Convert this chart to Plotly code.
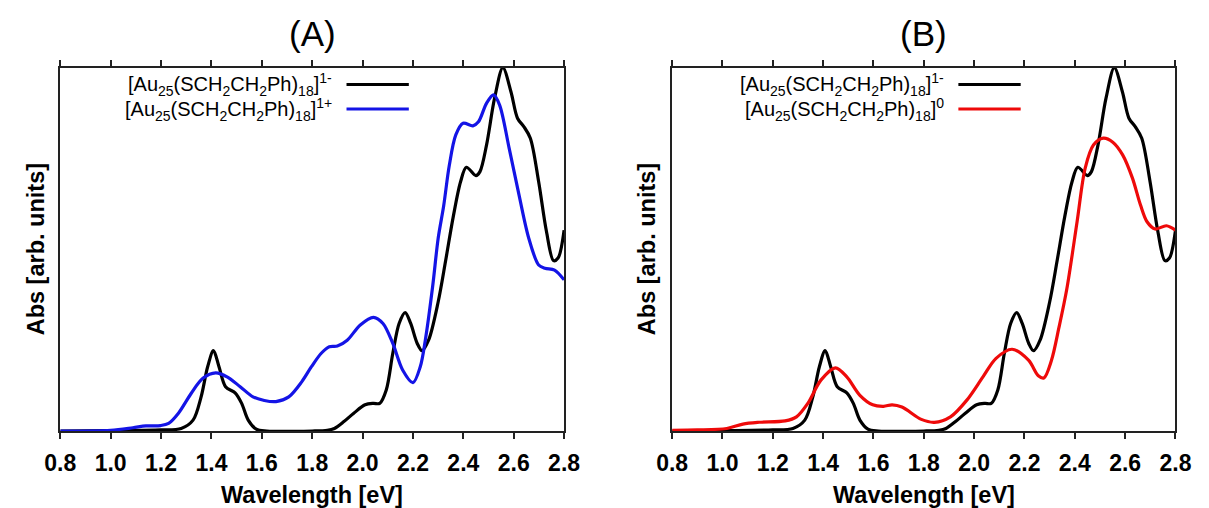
import plotly.graph_objects as go

W, H = 1209, 508

# ---- spectra -------------------------------------------------------------
# [Au25(SCH2CH2Ph)18]1-  (shown in both panels)
energy_anion = [0.80, 1.00, 1.20, 1.28, 1.327, 1.359, 1.385, 1.408, 1.43, 1.456,
                1.494, 1.52, 1.546, 1.578, 1.62, 1.80, 1.86, 1.888, 1.926, 1.965,
                2.01, 2.043, 2.068, 2.094, 2.12, 2.145, 2.169, 2.191, 2.217, 2.236,
                2.262, 2.30, 2.33, 2.36, 2.389, 2.412, 2.45, 2.466, 2.492, 2.524,
                2.557, 2.589, 2.615, 2.64, 2.666, 2.699, 2.73, 2.758, 2.776, 2.80]
abs_anion = [0.0, 0.001, 0.003, 0.007, 0.03, 0.094, 0.177, 0.221, 0.177, 0.122,
             0.105, 0.076, 0.03, 0.005, 0.0, 0.0, 0.002, 0.007, 0.026, 0.049,
             0.072, 0.076, 0.076, 0.113, 0.214, 0.296, 0.326, 0.296, 0.241, 0.221,
             0.25, 0.355, 0.47, 0.59, 0.686, 0.726, 0.703, 0.714, 0.787, 0.916,
             1.0, 0.934, 0.861, 0.838, 0.806, 0.686, 0.549, 0.469, 0.476, 0.553]

# [Au25(SCH2CH2Ph)18]1+
energy_cation = [0.80, 1.00, 1.088, 1.14, 1.198, 1.23, 1.269, 1.32, 1.366, 1.417,
                 1.462, 1.514, 1.565, 1.61, 1.656, 1.707, 1.759, 1.797, 1.836, 1.868,
                 1.90, 1.939, 1.991, 2.043, 2.081, 2.12, 2.159, 2.20, 2.229, 2.249,
                 2.278, 2.30, 2.322, 2.344, 2.37, 2.399, 2.438, 2.46, 2.492, 2.52,
                 2.544, 2.582, 2.621, 2.66, 2.699, 2.724, 2.762, 2.80]
abs_cation = [0.0, 0.002, 0.009, 0.014, 0.015, 0.021, 0.049, 0.104, 0.145, 0.16,
              0.149, 0.122, 0.094, 0.084, 0.081, 0.094, 0.136, 0.177, 0.214, 0.232,
              0.234, 0.25, 0.292, 0.313, 0.296, 0.241, 0.168, 0.133, 0.177, 0.25,
              0.397, 0.53, 0.62, 0.73, 0.815, 0.847, 0.84, 0.851, 0.902, 0.925,
              0.897, 0.778, 0.65, 0.53, 0.457, 0.448, 0.443, 0.416]

# [Au25(SCH2CH2Ph)18]0
energy_neutral = [0.80, 0.90, 1.017, 1.081, 1.145, 1.249, 1.294, 1.339, 1.391, 1.449,
                  1.494, 1.545, 1.597, 1.64, 1.674, 1.713, 1.79, 1.842, 1.906, 1.971,
                  2.035, 2.087, 2.151, 2.216, 2.255, 2.277, 2.307, 2.337, 2.368, 2.409,
                  2.441, 2.474, 2.513, 2.551, 2.59, 2.629, 2.661, 2.687, 2.719, 2.764,
                  2.80]
abs_neutral = [0.002, 0.003, 0.007, 0.019, 0.024, 0.028, 0.039, 0.076, 0.14, 0.174,
               0.149, 0.099, 0.072, 0.068, 0.072, 0.066, 0.032, 0.024, 0.039, 0.085,
               0.149, 0.20, 0.225, 0.195, 0.152, 0.146, 0.194, 0.285, 0.39, 0.576,
               0.723, 0.787, 0.806, 0.795, 0.76, 0.696, 0.622, 0.576, 0.556, 0.565,
               0.553]

x_ticks = [0.8, 1.0, 1.2, 1.4, 1.6, 1.8, 2.0, 2.2, 2.4, 2.6, 2.8]
panel_titles = ["(A)", "(B)"]
label_anion = "[Au<sub>25</sub>(SCH<sub>2</sub>CH<sub>2</sub>Ph)<sub>18</sub>]<sup>1-</sup>"
label_cation = "[Au<sub>25</sub>(SCH<sub>2</sub>CH<sub>2</sub>Ph)<sub>18</sub>]<sup>1+</sup>"
label_neutral = "[Au<sub>25</sub>(SCH<sub>2</sub>CH<sub>2</sub>Ph)<sub>18</sub>]<sup>0</sup>"

BLACK, BLUE, RED = "#000000", "#1414e6", "#ee0a0a"
FONT = "Liberation Sans, Arial, sans-serif"


def fx(px):
    return px / W


def fy(py):
    return 1 - py / H


# plot-area edges in pixels
A_LEFT, A_RIGHT = 45.5, 563.0
B_LEFT, B_RIGHT = 674.0, 1191.0
TOP, BOTTOM = 67.7, 431.0

fig = go.Figure()

panels = [
    ("x", "y", [(energy_anion, abs_anion, BLACK, label_anion),
                (energy_cation, abs_cation, BLUE, label_cation)]),
    ("x2", "y2", [(energy_anion, abs_anion, BLACK, label_anion),
                  (energy_neutral, abs_neutral, RED, label_neutral)]),
]

for xa, ya, series in panels:
    for e, a, c, name in series:
        fig.add_trace(go.Scatter(
            x=e, y=a, mode="lines", name=name, showlegend=False,
            line=dict(color=c, width=3.2, shape="spline", smoothing=0.9),
            xaxis=xa, yaxis=ya, hoverinfo="skip"))

xaxis_style = dict(
    range=[0.8, 2.8], tickvals=x_ticks, tickformat=".1f",
    ticks="outside", ticklen=6, tickwidth=1.5, tickcolor="#222",
    showline=True, linecolor="#222", linewidth=1.5, mirror="ticks",
    showgrid=False, zeroline=False, ticklabelstandoff=5,
    tickfont=dict(family=FONT, size=23, color="black", weight="bold"),
)
yaxis_style = dict(
    range=[0, 1.0], showticklabels=False, ticks="",
    showline=True, linecolor="#222", linewidth=1.5, mirror=True,
    showgrid=False, zeroline=False,
    domain=[fy(BOTTOM), fy(TOP)],
)

fig.update_layout(
    width=W, height=H, margin=dict(l=0, r=0, t=0, b=0),
    paper_bgcolor="white", plot_bgcolor="white",
    xaxis=dict(xaxis_style, domain=[fx(A_LEFT), fx(A_RIGHT)], anchor="y"),
    yaxis=dict(yaxis_style, anchor="x"),
    xaxis2=dict(xaxis_style, domain=[fx(B_LEFT), fx(B_RIGHT)], anchor="y2"),
    yaxis2=dict(yaxis_style, anchor="x2"),
    showlegend=False,
)

annotations = []
shapes = []
for (left, right), title, series in zip(
        [(A_LEFT, A_RIGHT), (B_LEFT, B_RIGHT)], panel_titles,
        [panels[0][2], panels[1][2]]):
    mid = (left + right) / 2
    annotations.append(dict(
        text=title, x=fx(mid), y=fy(33), xref="paper", yref="paper",
        xanchor="center", yanchor="middle", showarrow=False,
        font=dict(family=FONT, size=35, color="black")))
    annotations.append(dict(
        text="Wavelength [eV]", x=fx(mid), y=fy(495), xref="paper", yref="paper",
        xanchor="center", yanchor="middle", showarrow=False,
        font=dict(family=FONT, size=23.5, color="black", weight="bold")))
    annotations.append(dict(
        text="Abs [arb. units]", x=fx(left - 25), y=fy((TOP + BOTTOM) / 2),
        xref="paper", yref="paper", xanchor="center", yanchor="middle",
        textangle=-90, showarrow=False,
        font=dict(family=FONT, size=23.5, color="black", weight="bold")))

    # key: label text right-aligned, line sample to its right
    text_end = left + 281
    line_start, line_end = left + 294, left + 358
    for row, (e, a, c, name) in enumerate(series):
        yrow = 84.5 + 24.5 * row
        annotations.append(dict(
            text=name, x=fx(text_end), y=fy(yrow), xref="paper", yref="paper",
            xanchor="right", yanchor="middle", showarrow=False,
            font=dict(family=FONT, size=20, color="black")))
        shapes.append(dict(
            type="line", xref="paper", yref="paper",
            x0=fx(line_start), x1=fx(line_end), y0=fy(yrow), y1=fy(yrow),
            line=dict(color=c, width=3.2)))

fig.update_layout(annotations=annotations, shapes=shapes)

fig.write_html("out.html")
